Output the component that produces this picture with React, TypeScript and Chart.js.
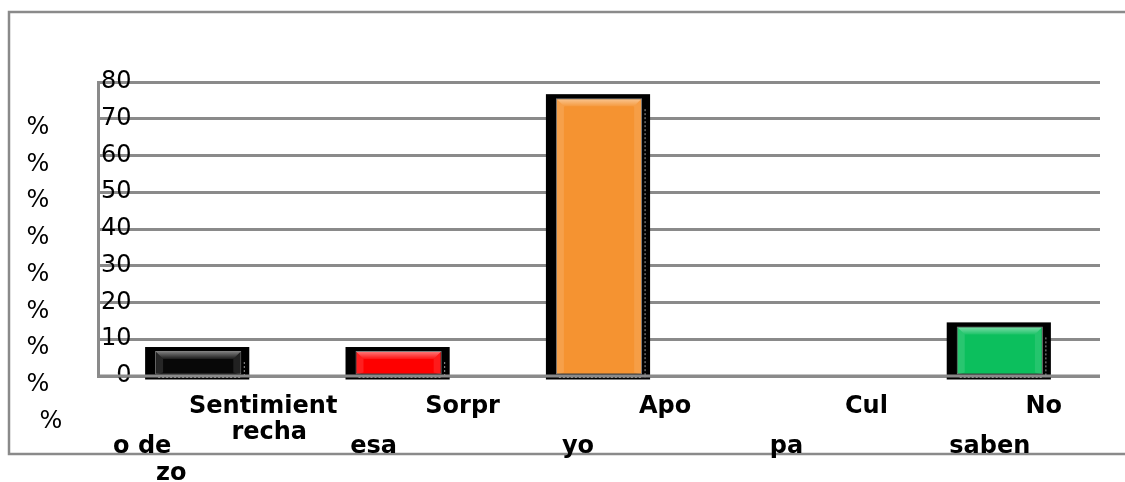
import React, { useEffect, useRef } from "react";
import { Chart, registerables } from "chart.js";

Chart.register(...registerables);

// ---- data ----
const categories = ["Sentimiento de rechazo", "Sorpresa", "Apoyo", "Culpa", "No saben"];
const values = [6.8, 6.8, 75.6, 0, 13.5];
const barColors = ["#080808", "#fe0000", "#f59331", "#f59331", "#0cbf5d"];
const yTickValues = [0, 10, 20, 30, 40, 50, 60, 70, 80];
const percentValues = [70, 60, 50, 40, 30, 20, 10, 0, -10];
const percentText = "%";
const labelFragments = [
  ["Sentimient", "recha", "o de", "zo"],
  ["Sorpr", "esa"],
  ["Apo", "yo"],
  ["Cul", "pa"],
  ["No", "saben"],
];

// ---- layout (not data) ----
const W = 1125;
const H = 482;
const GRAY = "#8a8a8a";
// [dx from category centre, dy below chart bottom]
const fragmentLayout = [
  [[65, 37], [71, 63], [-56, 77], [-27, 104]],
  [[64, 37], [-25, 77]],
  [[66, 37], [-21, 77]],
  [[67, 37], [-13, 77]],
  [[44, 37], [-10, 77]],
];

const decorPlugin = {
  id: "decor",
  beforeDraw(chart: any) {
    const ctx = chart.ctx;
    ctx.save();
    ctx.strokeStyle = GRAY;
    ctx.lineWidth = 2.5;
    ctx.beginPath();
    ctx.moveTo(W, 12);
    ctx.lineTo(9, 12);
    ctx.lineTo(9, 454);
    ctx.lineTo(W, 454);
    ctx.stroke();
    ctx.restore();
  },
  beforeDatasetsDraw(chart: any) {
    const ctx = chart.ctx;
    const meta = chart.getDatasetMeta(0);
    ctx.save();
    meta.data.forEach((bar: any, i: number) => {
      if (!values[i]) return;
      const L = bar.x - bar.width / 2;
      const R = bar.x + bar.width / 2;
      const T = bar.y;
      const B = bar.base;
      ctx.fillStyle = "#000";
      ctx.fillRect(L - 10, T - 4, R - L + 18, B - T + 9);
    });
    ctx.restore();
  },
  afterDatasetsDraw(chart: any) {
    const ctx = chart.ctx;
    const meta = chart.getDatasetMeta(0);
    const area = chart.chartArea;
    ctx.save();
    meta.data.forEach((bar: any, i: number) => {
      if (!values[i]) return;
      const L = bar.x - bar.width / 2 + 1;
      const R = bar.x + bar.width / 2 - 1;
      const T = bar.y + 1;
      const B = bar.base;
      const bv = 7;
      // top bevel
      const g = ctx.createLinearGradient(0, T, 0, T + bv);
      g.addColorStop(0, "rgba(255,255,255,0.45)");
      g.addColorStop(1, "rgba(255,255,255,0.08)");
      ctx.fillStyle = g;
      ctx.beginPath();
      ctx.moveTo(L, T);
      ctx.lineTo(R, T);
      ctx.lineTo(R - bv, T + bv);
      ctx.lineTo(L + bv, T + bv);
      ctx.closePath();
      ctx.fill();
      // left bevel
      ctx.fillStyle = "rgba(255,255,255,0.12)";
      ctx.beginPath();
      ctx.moveTo(L, T);
      ctx.lineTo(L + bv, T + bv);
      ctx.lineTo(L + bv, B - 2);
      ctx.lineTo(L, B);
      ctx.closePath();
      ctx.fill();
      // right bevel
      ctx.fillStyle = "rgba(255,255,255,0.1)";
      ctx.beginPath();
      ctx.moveTo(R, T);
      ctx.lineTo(R - bv, T + bv);
      ctx.lineTo(R - bv, B - 2);
      ctx.lineTo(R, B);
      ctx.closePath();
      ctx.fill();
      // dotted edges
      ctx.strokeStyle = "#9a9a9a";
      ctx.lineWidth = 1;
      ctx.setLineDash([2, 2]);
      ctx.beginPath();
      ctx.moveTo(L + 2, B + 3);
      ctx.lineTo(R, B + 3);
      ctx.moveTo(R + 4, T + 10);
      ctx.lineTo(R + 4, B + 3);
      ctx.stroke();
      ctx.setLineDash([]);
    });
    // baseline over the bars
    const y0 = chart.scales.y.getPixelForValue(0);
    ctx.strokeStyle = GRAY;
    ctx.lineWidth = 3;
    ctx.beginPath();
    ctx.moveTo(area.left, y0);
    ctx.lineTo(area.right, y0);
    ctx.stroke();
    ctx.restore();
  },
  afterDraw(chart: any) {
    const ctx = chart.ctx;
    const area = chart.chartArea;
    const xs = chart.scales.x;
    const ys = chart.scales.y;
    ctx.save();
    ctx.fillStyle = "#000";
    // % column
    ctx.font = "24px 'DejaVu Sans'";
    ctx.textAlign = "center";
    ctx.textBaseline = "alphabetic";
    percentValues.forEach((v, i) => {
      const x = i === percentValues.length - 1 ? 51 : 38;
      ctx.fillText(percentText, x, ys.getPixelForValue(v) + 15);
    });
    // category label fragments
    ctx.font = "bold 24px 'DejaVu Sans'";
    labelFragments.forEach((frags, ci) => {
      const cx = xs.getPixelForValue(ci);
      frags.forEach((t, fi) => {
        const [dx, dy] = fragmentLayout[ci][fi];
        ctx.fillText(t, cx + dx, area.bottom + dy);
      });
    });
    ctx.restore();
  },
};

export default function App() {
  const ref = useRef<HTMLCanvasElement>(null);
  useEffect(() => {
    if (!ref.current) return;
    const chart = new Chart(ref.current, {
      type: "bar",
      data: {
        labels: categories,
        datasets: [
          {
            data: values,
            backgroundColor: barColors,
            borderColor: "#7f7f7f",
            borderWidth: 1,
            borderSkipped: false,
            categoryPercentage: 1,
            barPercentage: 0.43,
          },
        ],
      },
      options: {
        responsive: false,
        animation: false,
        layout: { padding: { left: 98, right: 25, top: 82, bottom: 106 } },
        plugins: { legend: { display: false }, tooltip: { enabled: false } },
        scales: {
          x: { display: false },
          y: {
            min: 0,
            max: 80,
            afterFit: (s: any) => {
              s.width = 0;
            },
            afterBuildTicks: (s: any) => {
              s.ticks = yTickValues.map((v) => ({ value: v }));
            },
            grid: { color: GRAY, lineWidth: 3, drawTicks: false },
            border: { display: true, color: GRAY, width: 3 },
            ticks: {
              mirror: true,
              crossAlign: "far",
              padding: 3,
              color: "#000",
              font: { family: "'DejaVu Sans'", size: 24 },
            },
          },
        },
      },
      plugins: [decorPlugin],
    });
    return () => chart.destroy();
  }, []);
  return (
    <div style={{ position: "fixed", left: 0, top: 0, width: W, height: H, background: "#fff" }}>
      <canvas ref={ref} width={W} height={H} style={{ display: "block" }} />
    </div>
  );
}
